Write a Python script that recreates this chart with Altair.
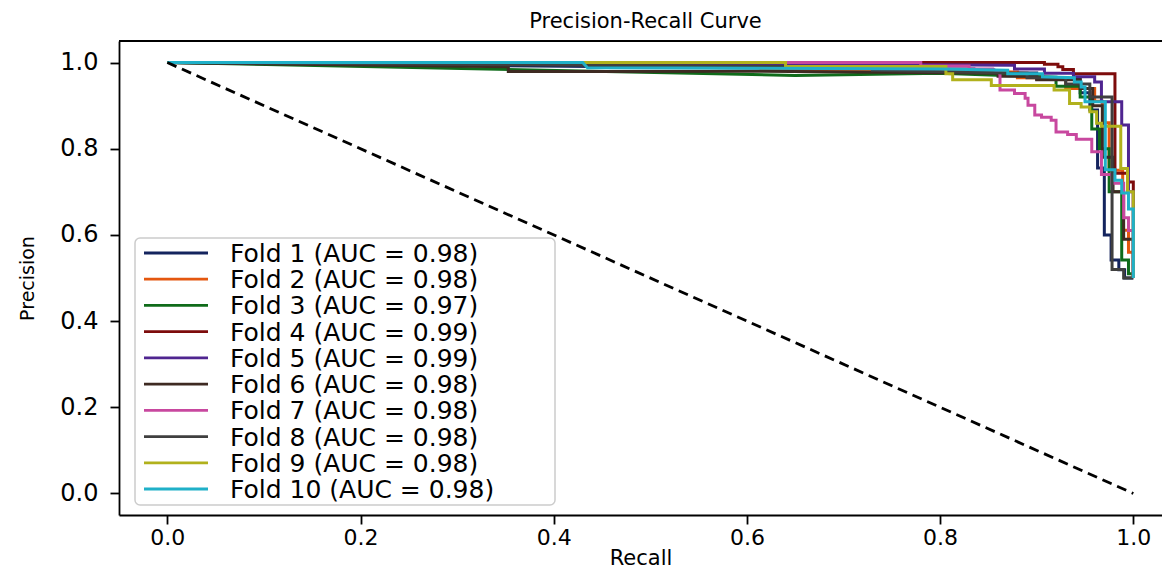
import altair as alt
import pandas as pd

# ---------------- data ----------------
auc = ["0.98", "0.98", "0.97", "0.99", "0.99", "0.98", "0.98", "0.98", "0.98", "0.98"]
labels = [f"Fold {i + 1} (AUC = {a})" for i, a in enumerate(auc)]
colors = ["#14245e", "#e4570f", "#0f6b1a", "#7d0c0c", "#4f2590",
          "#3e2a22", "#c8489f", "#3f3f3f", "#b1b11c", "#1fb0c8"]

recall_1 = [0, 0.72, 0.835, 0.835, 0.90, 0.90, 0.945, 0.945, 0.955, 0.955, 0.963, 0.963,
            0.970, 0.970, 0.977, 0.977, 0.985, 0.985, 0.991, 0.991, 1.0]
precision_1 = [1.0, 0.985, 0.985, 0.976, 0.976, 0.962, 0.962, 0.93, 0.93, 0.89, 0.89, 0.755,
               0.755, 0.60, 0.60, 0.542, 0.542, 0.519, 0.519, 0.5, 0.5]

recall_2 = [0, 0.612, 0.615, 0.66, 0.88, 0.88, 0.93, 0.93, 0.96, 0.96, 0.968, 0.968,
            0.975, 0.975, 0.989, 0.989, 0.995, 0.995, 1.0, 1.0]
precision_2 = [1.0, 0.995, 0.982, 0.982, 0.978, 0.965, 0.965, 0.94, 0.94, 0.910, 0.910, 0.86,
               0.86, 0.75, 0.75, 0.611, 0.611, 0.56, 0.56, 0.5]

recall_3 = [0, 0.65, 0.80, 0.92, 0.92, 0.945, 0.945, 0.957, 0.957, 0.965, 0.965, 0.975,
            0.975, 0.988, 0.988, 0.995, 0.995, 1.0, 1.0]
precision_3 = [1.0, 0.97, 0.975, 0.966, 0.945, 0.945, 0.92, 0.92, 0.846, 0.846, 0.80, 0.80,
               0.70, 0.70, 0.542, 0.542, 0.51, 0.51, 0.5]

recall_4 = [0, 0.908, 0.908, 0.922, 0.922, 0.927, 0.927, 0.938, 0.938, 0.981, 0.981,
            0.994, 0.994, 1.0, 1.0]
precision_4 = [1.0, 1.0, 0.996, 0.996, 0.99, 0.99, 0.984, 0.984, 0.974, 0.974, 0.743,
               0.743, 0.723, 0.723, 0.5]

recall_5 = [0, 0.55, 0.877, 0.877, 0.908, 0.908, 0.938, 0.938, 0.960, 0.960, 0.967, 0.967,
            0.988, 0.988, 0.995, 0.995, 1.0, 1.0]
precision_5 = [1.0, 0.997, 0.994, 0.985, 0.985, 0.975, 0.975, 0.967, 0.967, 0.955, 0.955,
               0.909, 0.909, 0.855, 0.855, 0.70, 0.70, 0.5]

recall_6 = [0, 0.353, 0.353, 0.44, 0.60, 0.86, 0.86, 0.90, 0.90, 0.945, 0.945, 0.958,
            0.958, 0.968, 0.968, 0.979, 0.979, 0.99, 0.99, 1.0, 1.0]
precision_6 = [1.0, 0.99, 0.979, 0.979, 0.98, 0.975, 0.968, 0.968, 0.96, 0.96, 0.94, 0.94,
               0.90, 0.90, 0.78, 0.78, 0.70, 0.70, 0.59, 0.59, 0.5]

recall_7 = [0, 0.78, 0.78, 0.83, 0.83, 0.855, 0.862, 0.862, 0.877, 0.877, 0.888, 0.888,
            0.891, 0.891, 0.898, 0.898, 0.905, 0.905, 0.915, 0.915, 0.920, 0.920, 0.932,
            0.932, 0.941, 0.941, 0.957, 0.957, 0.967, 0.967, 0.978, 0.978, 0.99, 0.99,
            0.995, 0.995, 1.0, 1.0]
precision_7 = [1.0, 1.0, 0.992, 0.992, 0.985, 0.985, 0.974, 0.936, 0.936, 0.928, 0.928,
               0.917, 0.917, 0.901, 0.901, 0.878, 0.878, 0.873, 0.873, 0.866, 0.866, 0.839,
               0.839, 0.833, 0.833, 0.822, 0.822, 0.793, 0.793, 0.74, 0.74, 0.72, 0.72,
               0.64, 0.64, 0.61, 0.61, 0.5]

recall_8 = [0, 0.70, 0.73, 0.73, 0.89, 0.89, 0.93, 0.93, 0.955, 0.955, 0.978, 0.978,
            0.99, 0.99, 1.0]
precision_8 = [1.0, 0.99, 0.99, 0.982, 0.975, 0.965, 0.965, 0.95, 0.95, 0.92, 0.92, 0.52,
               0.52, 0.50, 0.50]

recall_9 = [0, 0.64, 0.64, 0.806, 0.806, 0.813, 0.813, 0.853, 0.853, 0.918, 0.918, 0.934,
            0.934, 0.946, 0.946, 0.955, 0.955, 0.962, 0.962, 0.967, 0.967, 0.987, 0.987,
            0.994, 0.994, 1.0, 1.0]
precision_9 = [1.0, 1.0, 0.991, 0.991, 0.974, 0.974, 0.96, 0.96, 0.947, 0.947, 0.936, 0.936,
               0.905, 0.905, 0.897, 0.897, 0.886, 0.886, 0.859, 0.859, 0.852, 0.852, 0.754,
               0.754, 0.70, 0.70, 0.5]

recall_10 = [0, 0.43, 0.435, 0.80, 0.87, 0.87, 0.906, 0.906, 0.939, 0.939, 0.946, 0.946,
             0.950, 0.950, 0.971, 0.971, 0.981, 0.981, 0.988, 0.988, 0.995, 0.995, 1.0, 1.0]
precision_10 = [1.0, 1.0, 0.988, 0.985, 0.982, 0.974, 0.974, 0.967, 0.965, 0.955, 0.955,
                0.943, 0.943, 0.909, 0.909, 0.751, 0.751, 0.727, 0.727, 0.697, 0.697, 0.66,
                0.66, 0.5]

recalls = [recall_1, recall_2, recall_3, recall_4, recall_5,
           recall_6, recall_7, recall_8, recall_9, recall_10]
precisions = [precision_1, precision_2, precision_3, precision_4, precision_5,
              precision_6, precision_7, precision_8, precision_9, precision_10]

diag_recall = [0.0, 1.0]
diag_precision = [1.0, 0.0]

tick_values = [0.0, 0.2, 0.4, 0.6, 0.8, 1.0]

# ---------------- tables ----------------
rows = []
for f, (rr, pp) in enumerate(zip(recalls, precisions)):
    for i, (r, p) in enumerate(zip(rr, pp)):
        rows.append({"fold": f + 1, "label": labels[f], "idx": i, "recall": r, "precision": p})
df = pd.DataFrame(rows)
diag_df = pd.DataFrame({"recall": diag_recall, "precision": diag_precision, "idx": [0, 1]})
legend_df = pd.DataFrame({"label": labels, "row": list(range(len(labels)))})

# ---------------- chart ----------------
W, H = 1043, 474
FONT = "DejaVu Sans"
xs = alt.Scale(domain=[-0.05, 1.0297], nice=False, zero=False)
ys = alt.Scale(domain=[-0.05, 1.05], nice=False, zero=False)
cs = alt.Scale(domain=labels, range=colors)

x_axis = alt.Axis(values=tick_values, format=".1f", title="Recall", grid=False,
                  tickSize=9, labelPadding=3, labelFontSize=22, titleFontSize=21,
                  titlePadding=-1, labelFont=FONT, titleFont=FONT, titleFontWeight="normal",
                  domainColor="black", tickColor="black", labelColor="black",
                  titleColor="black", domainWidth=1.8, tickWidth=1.8)
y_axis = alt.Axis(values=tick_values, format=".1f", title="Precision", grid=False,
                  tickSize=9, labelPadding=12, labelFontSize=24, titleFontSize=19,
                  titlePadding=22, labelFont=FONT, titleFont=FONT, titleFontWeight="normal",
                  domainColor="black", tickColor="black", labelColor="black",
                  titleColor="black", domainWidth=1.8, tickWidth=1.8)

data_layers = []
for f in range(len(labels)):
    data_layers.append(
        alt.Chart(df).transform_filter(alt.datum.fold == f + 1)
        .mark_line(strokeWidth=3, clip=True)
        .encode(
            x=alt.X("recall:Q", scale=xs, axis=x_axis),
            y=alt.Y("precision:Q", scale=ys, axis=y_axis),
            color=alt.Color("label:N", scale=cs, legend=None),
            order=alt.Order("idx:Q"),
        )
    )

diag = alt.Chart(diag_df).mark_line(color="black", strokeWidth=2.8, strokeDash=[10, 6]).encode(
    x=alt.X("recall:Q", scale=xs, axis=x_axis),
    y=alt.Y("precision:Q", scale=ys, axis=y_axis),
    order=alt.Order("idx:Q"),
)

top_border = alt.Chart(pd.DataFrame({"a": [0]})).mark_rule(color="black", strokeWidth=1.8).encode(
    x=alt.value(0), x2=alt.value(W), y=alt.value(0)
)

data_part = alt.layer(*data_layers, diag, top_border)

ly = alt.Scale(domain=[0, 9], range=[212, 448], nice=False, zero=False)

legend_box = alt.Chart(pd.DataFrame({"a": [0]})).mark_rect(
    fill="white", fillOpacity=0.85, stroke="#cccccc", strokeWidth=1.5, cornerRadius=5
).encode(x=alt.value(16), x2=alt.value(436), y=alt.value(197), y2=alt.value(464))

legend_lines = alt.Chart(legend_df).mark_rule(strokeWidth=2.8).encode(
    x=alt.value(25), x2=alt.value(89),
    y=alt.Y("row:Q", scale=ly, axis=None),
    color=alt.Color("label:N", scale=cs, legend=None),
)

legend_text = alt.Chart(legend_df).mark_text(
    align="left", baseline="middle", font=FONT, fontSize=25, color="black", dy=1
).encode(
    x=alt.value(111),
    y=alt.Y("row:Q", scale=ly, axis=None),
    text="label:N",
)

chart = alt.layer(data_part, legend_box, legend_lines, legend_text).resolve_scale(
    y="independent"
).properties(
    width=W, height=H,
    title=alt.TitleParams("Precision-Recall Curve", fontSize=21, font=FONT,
                          fontWeight="normal", offset=8, anchor="middle", color="black",
                          dx=5),
    autosize=alt.AutoSizeParams(type="none"),
    padding={"left": 111, "top": 33, "right": 0, "bottom": 54},
).configure_view(stroke=None)

chart.save("out.html", embed_options={"renderer": "svg", "actions": False})
